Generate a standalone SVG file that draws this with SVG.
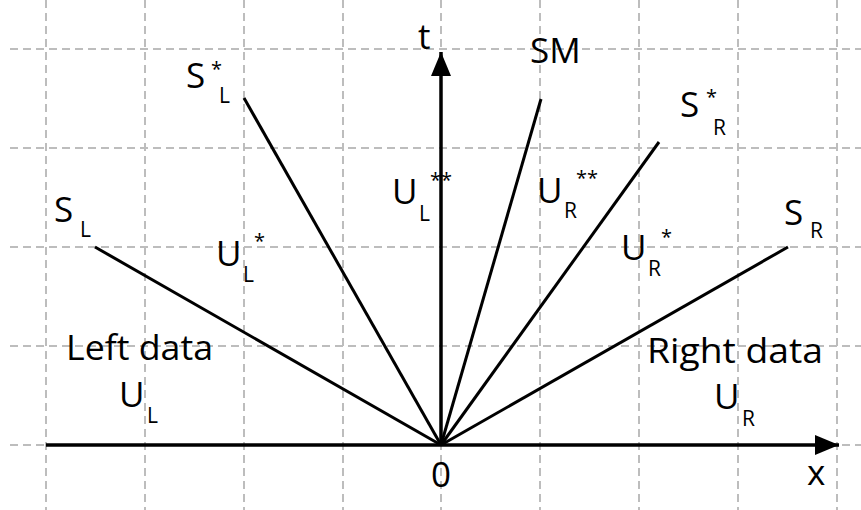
<svg xmlns="http://www.w3.org/2000/svg" width="861" height="510" viewBox="0 0 861 510">
<defs>
<style>
.grid{stroke:#bdbdbd;stroke-width:2;stroke-dasharray:8 5;fill:none}
.axis{stroke:#000;stroke-width:3.5;fill:none}
.wave{stroke:#000;stroke-width:3;fill:none}
text{font-family:"Open Sans","Noto Sans",sans-serif;fill:#000}
.m{font-size:35px}
.s{font-size:21px}
.st{font-size:20px}
</style>
<marker id="ah" viewBox="0 0 24 20" refX="24" refY="10" markerWidth="24" markerHeight="20" markerUnits="userSpaceOnUse" orient="auto">
<path d="M0,0 L24,10 L0,20 Z" fill="#000"/>
</marker>
</defs>
<rect width="861" height="510" fill="#fff"/>
<g id="grid">
<path class="grid" d="M46,0V510M145,0V510M244,0V510M343,0V510M441,0V510M540,0V510M639,0V510M738,0V510M837,0V510"/>
<path class="grid" d="M10,49H861M10,148H861M10,247H861M10,346H861M10,445H861"/>
</g>
<g id="connectors">
<line class="axis" x1="46" y1="445" x2="839" y2="445" marker-end="url(#ah)"/>
<line class="axis" x1="441" y1="445" x2="441" y2="52" marker-end="url(#ah)"/>
<line class="wave" x1="441" y1="445" x2="95" y2="247"/>
<line class="wave" x1="441" y1="445" x2="244" y2="98"/>
<line class="wave" x1="441" y1="445" x2="541" y2="99"/>
<line class="wave" x1="441" y1="445" x2="659" y2="142"/>
<line class="wave" x1="441" y1="445" x2="788" y2="247"/>
</g>
<g id="label-t"><text class="m" x="418" y="49">t</text></g>
<g id="label-x"><text class="m" x="807" y="485">x</text></g>
<g id="label-0"><text class="m" x="431" y="487">0</text></g>
<g id="label-SM"><text class="m" x="530" y="63">SM</text></g>
<g id="label-SL"><text class="m" x="54" y="222">S</text><text class="s" x="80" y="237">L</text></g>
<g id="label-SLstar"><text class="m" x="186" y="88">S</text><text class="st" x="211" y="76">*</text><text class="s" x="219" y="103">L</text></g>
<g id="label-SRstar"><text class="m" x="680" y="117">S</text><text class="st" x="706" y="104">*</text><text class="s" x="713" y="135">R</text></g>
<g id="label-SR"><text class="m" x="784" y="225">S</text><text class="s" x="810" y="238">R</text></g>
<g id="label-ULstar"><text class="m" x="216" y="266">U</text><text class="st" x="254" y="248">*</text><text class="s" x="243" y="282">L</text></g>
<g id="label-ULss"><text class="m" x="392" y="204">U</text><text class="st" x="430" y="187">**</text><text class="s" x="419" y="221">L</text></g>
<g id="label-URss"><text class="m" x="537" y="203">U</text><text class="st" x="576" y="185">**</text><text class="s" x="564" y="218">R</text></g>
<g id="label-URstar"><text class="m" x="621" y="260">U</text><text class="st" x="661" y="244">*</text><text class="s" x="648" y="276">R</text></g>
<g id="label-left"><text class="m" x="66" y="360" textLength="147" lengthAdjust="spacingAndGlyphs">Left data</text><text class="m" x="119" y="407">U</text><text class="s" x="147" y="423">L</text></g>
<g id="label-right"><text class="m" x="647" y="363" textLength="176" lengthAdjust="spacingAndGlyphs">Right data</text><text class="m" x="714" y="409">U</text><text class="s" x="742" y="426">R</text></g>
</svg>
